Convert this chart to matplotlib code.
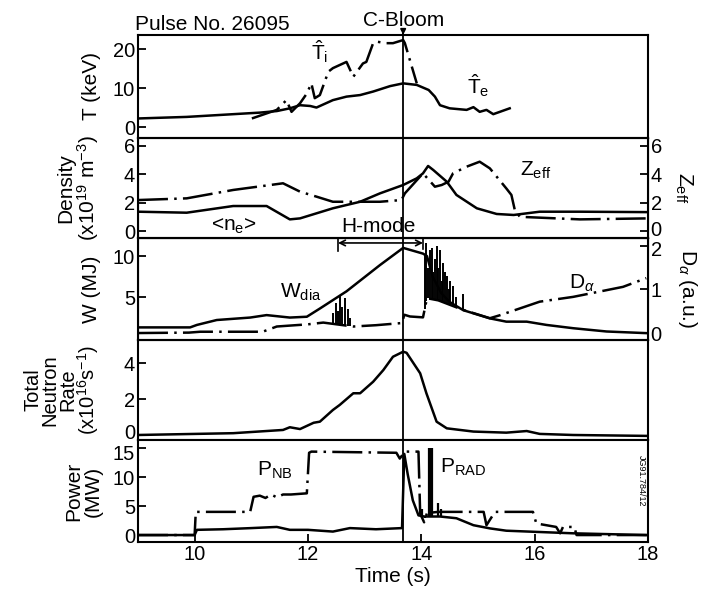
import numpy as np
import matplotlib
matplotlib.use("Agg")
import matplotlib.pyplot as plt
import matplotlib.transforms as mtransforms

plt.rcParams['font.family'] = ['Liberation Sans', 'DejaVu Sans']
plt.rcParams['mathtext.fontset'] = 'custom'
plt.rcParams['mathtext.rm'] = 'Liberation Sans'
plt.rcParams['mathtext.it'] = 'Liberation Sans:italic'
plt.rcParams['mathtext.bf'] = 'Liberation Sans:bold'
plt.rcParams['font.size'] = 15

# --- data (time in s) ---
t_bloom = 13.68

# Panel 1: temperatures (keV)
te_t = [9.0, 9.86, 11.15, 11.45, 11.68, 11.86, 12.04, 12.15, 12.44, 12.68, 12.92, 13.15, 13.45,
        13.68, 13.92, 14.13, 14.24, 14.33, 14.5, 14.8, 14.92, 15.03, 15.15, 15.27, 15.56]
te_v = [2.2, 2.6, 3.7, 4.1, 4.8, 5.6, 5.4, 5.0, 6.9, 7.8, 8.2, 9.1, 10.5,
        11.2, 10.8, 9.5, 7.8, 5.6, 4.8, 4.4, 5.1, 3.9, 4.4, 3.3, 4.8]
ti_t = [11.01, 11.45, 11.62, 11.71, 11.86, 11.98, 12.06, 12.12, 12.21, 12.36, 12.44, 12.68, 12.80,
        12.97, 13.03, 13.15, 13.21, 13.38, 13.5, 13.68, 13.71, 13.92]
ti_v = [2.2, 4.4, 6.9, 3.9, 6.1, 8.6, 11.2, 7.4, 8.2, 14.2, 15.1, 16.7, 12.9,
        16.3, 16.7, 21.5, 21.9, 21.5, 21.5, 22.3, 21.5, 11.2]

# Panel 2: line averaged density (1e19 m^-3) and Zeff
ne_t = [9.0, 9.86, 10.68, 11.27, 11.68, 11.86, 12.44, 12.92, 13.27, 13.68, 13.92, 14.03, 14.12,
        14.21, 14.45, 14.62, 14.98, 15.33, 15.63, 16.09, 16.8, 18.0]
ne_v = [1.36, 1.29, 1.76, 1.76, 0.82, 0.89, 1.6, 2.06, 2.65, 3.24, 3.71, 4.06, 4.58,
        4.3, 3.47, 2.54, 1.6, 1.2, 1.13, 1.36, 1.36, 1.33]
zeff_t = [9.0, 9.86, 10.68, 11.56, 11.86, 12.15, 12.44, 12.92, 13.27, 13.65, 13.71, 14.03, 14.24,
          14.36, 14.48, 14.56, 14.8, 15.03, 15.21, 15.5, 15.59, 15.65, 15.74, 16.8, 18.0]
zeff_v = [2.18, 2.3, 2.89, 3.36, 2.77, 2.42, 2.06, 2.06, 2.06, 2.18, 2.65, 4.06, 3.12,
          3.24, 3.47, 4.06, 4.53, 4.88, 4.41, 3.0, 2.54, 1.48, 1.0, 0.82, 0.89]

# Panel 3: diamagnetic energy (MJ) and D-alpha (a.u.)
w_t = [9.0, 9.92, 10.04, 10.39, 10.98, 11.27, 11.68, 11.98, 12.21, 12.68, 13.27, 13.68, 14.03,
       14.1, 14.2, 14.35, 14.5, 14.74, 15.21, 15.5, 15.86, 16.21, 16.68, 17.27, 17.97]
w_v = [1.3, 1.3, 1.6, 2.2, 2.5, 2.8, 2.5, 2.6, 3.6, 5.7, 8.9, 11.0, 10.3,
       10.0, 7.5, 5.5, 4.4, 3.4, 2.4, 2.0, 2.0, 1.6, 1.2, 0.8, 0.6]
da_t = [9.0, 9.9, 10.1, 11.2, 11.45, 12.0, 12.27, 12.8, 13.2, 13.66, 13.70, 13.8, 14.03, 14.1,
        14.3, 14.5, 14.74, 15.21, 15.39, 16.09, 16.68, 17.56, 17.97]
da_v = [0.0, 0.01, 0.03, 0.03, 0.15, 0.2, 0.24, 0.15, 0.18, 0.23, 0.42, 0.38, 0.36, 0.8,
        0.75, 0.65, 0.53, 0.34, 0.41, 0.72, 0.83, 1.06, 1.26]
elm_t = [12.45, 12.5, 12.53, 12.57, 12.6, 12.65, 12.7, 12.75,
         14.06, 14.09, 14.12, 14.15, 14.18, 14.21, 14.24, 14.27, 14.30, 14.33, 14.36, 14.39,
         14.42, 14.45, 14.48, 14.5, 14.56, 14.62, 14.74]
elm_v = [0.45, 0.7, 0.5, 0.85, 0.6, 0.8, 0.55, 0.35,
         1.8, 2.07, 1.5, 1.9, 1.95, 1.4, 1.7, 2.0, 1.5, 1.9, 1.2, 1.6,
         1.4, 1.3, 1.0, 1.2, 1.07, 0.83, 0.9]

# Panel 4: total neutron rate (1e16 /s)
rn_t = [9.0, 10.68, 11.56, 11.68, 11.86, 12.1, 12.21, 12.44, 12.56, 12.8, 12.92, 13.15, 13.33,
        13.5, 13.68, 13.74, 13.98, 14.09, 14.27, 14.45, 14.92, 15.5, 15.86, 16.09, 16.68, 17.97]
rn_v = [0.0, 0.1, 0.28, 0.43, 0.33, 0.68, 0.74, 1.39, 1.67, 2.32, 2.32, 2.96, 3.61,
        4.35, 4.63, 4.57, 3.43, 2.32, 0.74, 0.37, 0.19, 0.13, 0.22, 0.06, 0.0, -0.05]

# Panel 5: powers (MW)
pnb_t = [9.0, 10.0, 10.02, 10.98, 11.04, 11.15, 11.25, 11.35, 11.45, 11.56, 11.7, 11.98, 12.02,
         12.06, 13.56, 13.62, 13.71, 13.95, 13.98, 14.05, 14.1, 14.3, 15.1, 15.15, 15.3, 15.97,
         16.03, 16.38, 16.45, 16.5, 16.7, 16.74, 18.0]
pnb_v = [0.0, 0.0, 4.0, 4.0, 6.6, 6.8, 6.4, 7.0, 6.5, 7.0, 7.0, 7.2, 14.2,
         14.4, 14.2, 13.2, 14.4, 14.4, 3.7, 2.2, 3.8, 4.0, 4.0, 1.7, 4.0, 4.0,
         2.0, 1.4, 0.3, 1.4, 1.4, 0.0, 0.0]
prad_t = [9.0, 10.0, 10.04, 10.5, 11.0, 11.45, 11.68, 12.0, 12.44, 12.74, 13.2, 13.66, 13.70,
          13.76, 13.85, 13.95, 14.05, 14.33, 14.62, 14.92, 15.21, 15.5, 15.97, 16.68, 17.97]
prad_v = [0.0, 0.0, 0.9, 1.0, 1.2, 1.4, 0.9, 0.9, 0.6, 1.2, 1.0, 1.2, 14.0,
          10.5, 6.0, 3.4, 3.2, 3.2, 2.9, 1.7, 1.15, 0.75, 0.57, 0.3, 0.0]
prad_spk_t = [14.02, 14.06, 14.13, 14.15, 14.17, 14.19, 14.3, 14.35]
prad_spk_v = [4.5, 3.0, 15.0, 15.0, 15.0, 15.0, 5.5, 4.5]

dashdot = (0, (12, 2.5, 1, 2.5))
LW = 1.8
TICKSIZE = 14.5

fig = plt.figure(figsize=(7.05, 5.96), dpi=100)
L, W = 0.1957, 0.7234
ax1 = fig.add_axes([L, 0.7685, W, 0.1728])
ax2 = fig.add_axes([L, 0.6007, W, 0.1678])
ax3 = fig.add_axes([L, 0.4295, W, 0.1711])
ax4 = fig.add_axes([L, 0.2617, W, 0.1678])
ax5 = fig.add_axes([L, 0.0906, W, 0.1711])
axes = [ax1, ax2, ax3, ax4, ax5]

for ax in axes:
    ax.set_xlim(9, 18)
    for s in ax.spines.values():
        s.set_linewidth(1.5)
    ax.tick_params(direction='in', length=6, width=1.3, labelsize=TICKSIZE, pad=2)
    ax.tick_params(axis='x', bottom=False, labelbottom=False)
    ax.axvline(t_bloom, color='k', lw=1.3)


def nudge(label, dy_pt):
    # small vertical shift of a tick label so neighbouring panels don't collide
    label.set_transform(label.get_transform() +
                        mtransforms.ScaledTranslation(0, dy_pt / 72, fig.dpi_scale_trans))


# panel 1
ax1.plot(te_t, te_v, color='k', lw=LW)
ax1.plot(ti_t, ti_v, color='k', lw=LW, linestyle=dashdot)
ax1.set_ylim(-2.8, 23.6)
ax1.set_yticks([0, 10, 20])
ax1.set_ylabel('T (keV)')
ax1.yaxis.set_label_coords(-0.072, 0.5)
ax1.text(12.05, 17.2, r'$\hat{\mathrm{T}}_\mathrm{i}$', fontsize=15)
ax1.text(14.8, 8.6, r'$\hat{\mathrm{T}}_\mathrm{e}$', fontsize=15)
ax1.text(-0.005, 1.1, 'Pulse No. 26095', transform=ax1.transAxes, ha='left', va='center')
ax1.annotate('C-Bloom', xy=(t_bloom, 1.0), xycoords=('data', 'axes fraction'),
             xytext=(t_bloom, 1.14), textcoords=('data', 'axes fraction'),
             ha='center', va='center',
             arrowprops=dict(arrowstyle='-|>', color='k', lw=1.2, shrinkA=6, shrinkB=0,
                             mutation_scale=8))

# panel 2
ax2.plot(ne_t, ne_v, color='k', lw=LW)
ax2.plot(zeff_t, zeff_v, color='k', lw=LW, linestyle=dashdot)
ax2.set_ylim(-0.49, 6.55)
ax2.set_yticks([0, 2, 4, 6])
ax2.set_ylabel('Density\n(x10$^{19}$ m$^{-3}$)', linespacing=1.0)
ax2.yaxis.set_label_coords(-0.072, 0.5)
ax2.text(10.7, 0.3, '<n$_\\mathrm{e}$>', ha='center', va='center')
ax2.text(13.24, 0.3, 'H-mode', ha='center', va='center')
ax2.text(15.75, 4.3, 'Z$_\\mathrm{eff}$', ha='left', va='center')
ax2r = ax2.twinx()
ax2r.set_ylim(-0.49, 6.55)
ax2r.set_yticks([0, 2, 4, 6])
ax2r.tick_params(direction='in', length=6, width=1.3, labelsize=TICKSIZE, pad=2)
ax2r.set_ylabel('Z$_\\mathrm{eff}$', rotation=270)
ax2r.yaxis.set_label_coords(1.09, 0.5)

# panel 3
ax3.plot(w_t, w_v, color='k', lw=LW)
ax3.set_ylim(-0.24, 12.2)
ax3.set_yticks([5, 10])
ax3.set_ylabel('W (MJ)')
ax3.yaxis.set_label_coords(-0.072, 0.5)
ax3.text(11.5, 5.6, 'W$_\\mathrm{dia}$', ha='left', va='center')
ax3.annotate('', xy=(12.53, 11.6), xytext=(14.03, 11.6),
             arrowprops=dict(arrowstyle='<->', color='k', lw=1.2, mutation_scale=10,
                             shrinkA=0, shrinkB=0))
ax3.plot([12.53, 12.53], [10.6, 12.1], color='k', lw=1.2)
ax3.plot([14.03, 14.03], [10.9, 12.1], color='k', lw=1.2)
ax3r = ax3.twinx()
ax3r.plot(da_t, da_v, color='k', lw=LW, linestyle=dashdot)
ax3r.vlines(elm_t, np.interp(elm_t, da_t, da_v), elm_v, color='k', lw=1.4)
ax3r.set_ylim(-0.16, 2.18)
ax3r.set_yticks([0, 1, 2])
ax3r.tick_params(direction='in', length=6, width=1.3, labelsize=TICKSIZE, pad=2)
ax3r.set_ylabel('D$_\\alpha$ (a.u.)', rotation=270)
ax3r.yaxis.set_label_coords(1.1, 0.5)
ax3r.text(16.6, 1.15, 'D$_\\alpha$', ha='left', va='center')

# panel 4
ax4.plot(rn_t, rn_v, color='k', lw=LW)
ax4.set_ylim(-0.28, 5.28)
ax4.set_yticks([0, 2, 4])
ax4.set_ylabel('Total\nNeutron\nRate\n(x10$^{16}$s$^{-1}$)', linespacing=0.9, fontsize=14.5)
ax4.yaxis.set_label_coords(-0.072, 0.5)

# panel 5
ax5.plot(pnb_t, pnb_v, color='k', lw=LW, linestyle=dashdot)
ax5.plot(prad_t, prad_v, color='k', lw=LW)
ax5.vlines(prad_spk_t, np.interp(prad_spk_t, prad_t, prad_v), prad_spk_v, color='k', lw=1.6)
ax5.set_ylim(-1.2, 16.4)
ax5.set_yticks([0, 5, 10, 15])
ax5.set_ylabel('Power\n(MW)', linespacing=1.0)
ax5.yaxis.set_label_coords(-0.07, 0.5)
ax5.tick_params(axis='x', bottom=True, labelbottom=True)
ax5.set_xticks([10, 12, 14, 16, 18])
ax5.set_xlabel('Time (s)', labelpad=2)
ax5.text(11.1, 11.2, 'P$_\\mathrm{NB}$', ha='left', va='center')
ax5.text(14.33, 11.7, 'P$_\\mathrm{RAD}$', ha='left', va='center')
ax5.text(0.995, 0.6, 'JG91.784/12', transform=ax5.transAxes, rotation=270,
         ha='right', va='center', fontsize=6.5)

# keep stacked tick labels apart at the panel joins
nudge(ax4.get_yticklabels()[0], 2.5)
nudge(ax5.get_yticklabels()[-1], -3.0)
nudge(ax2r.get_yticklabels()[0], 2.0)
nudge(ax3r.get_yticklabels()[-1], -2.0)

fig.savefig('out.png', dpi=100)
